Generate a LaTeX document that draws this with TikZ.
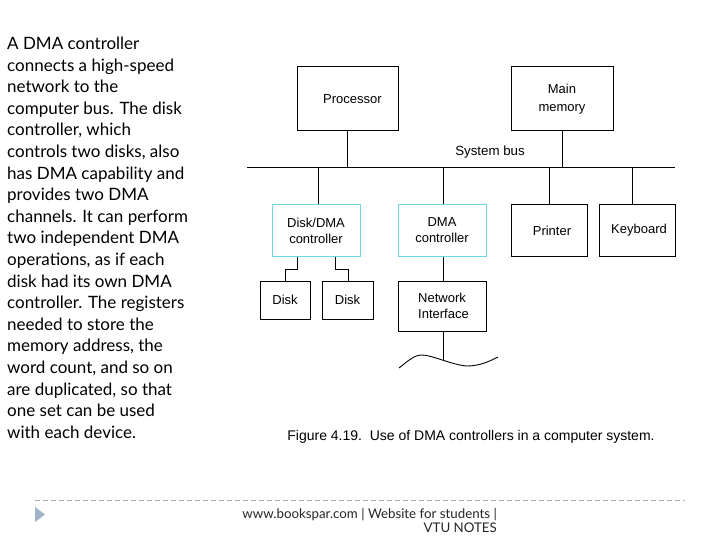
\documentclass[tikz,border=0pt]{standalone}
\usepackage{fontspec}
\setmainfont{Liberation Sans}
\newfontfamily\parafont{Lato}
\definecolor{cyanedge}{RGB}{110,215,225}
\definecolor{footgray}{RGB}{170,170,170}
\definecolor{triblue}{RGB}{160,180,202}
\begin{document}
\begin{tikzpicture}[x=1pt,y=-1pt,
  box/.style={draw=black,line width=1pt,inner sep=0pt,align=center,
    font=\fontsize{13}{16}\selectfont},
  cbox/.style={box,draw=cyanedge},
  wire/.style={line width=1pt},
  para/.style={inner sep=0pt,font=\parafont\fontsize{17}{20}\selectfont},
  foot/.style={inner sep=0pt,font=\parafont\fontsize{13.3}{16}\selectfont,text=black!85}]
\useasboundingbox (0,0) rectangle (720,540);
\fill[white] (0,0) rectangle (720,540);
% left paragraph
\foreach \t [count=\i] in {A DMA controller,connects a high-speed,network to the,computer bus. The disk,{controller, which},{controls two disks, also},has DMA capability and,provides two DMA,channels. It can perform,two independent DMA,{operations, as if each},disk had its own DMA,controller. The registers,needed to store the,{memory address, the},{word count, and so on},{are duplicated, so that},one set can be used,with each device.}
  \node[para,anchor=base west] (p\i) at (7,{49.5+21.6*(\i-1)}) {\t};
% boxes
\node[box,minimum width=101pt,minimum height=64pt] (proc) at (347.5,99) {\hspace*{10pt}Processor};
\node[box,minimum width=102pt,minimum height=64pt,font=\fontsize{13}{17.5}\selectfont] (mem) at (562,99) {\raisebox{1.5pt}{\begin{tabular}{@{}c@{}}Main\\memory\end{tabular}}};
\node[cbox,minimum width=88pt,minimum height=51pt] (dd) at (316,230.5) {Disk/DMA\\controller};
\node[cbox,minimum width=88pt,minimum height=51pt] (dma) at (442,230.5) {DMA\\controller};
\node[box,minimum width=76pt,minimum height=51pt] (pr) at (549,230.5) {\hspace*{6pt}Printer};
\node[box,minimum width=76pt,minimum height=51pt] (kb) at (637,230.5) {\hspace*{4pt}Keyboard};
\node[box,minimum width=50pt,minimum height=38pt] (d1) at (285,300) {Disk};
\node[box,minimum width=51pt,minimum height=38pt] (d2) at (347.5,300) {Disk};
\node[box,minimum width=88pt,minimum height=50pt,align=left] (ni) at (442,306) {\hspace*{3pt}Network\\\hspace*{3pt}Interface};
% bus
\coordinate (busL) at (247,168);
\coordinate (busR) at (675,168);
\draw[wire] (busL) -- (busR);
\node[inner sep=0pt,font=\fontsize{13.3}{15}\selectfont] (bl) at (490,152) {System bus};
\draw[wire] (proc.south) -- (proc.south |- busL);
\draw[wire] (mem.south) -- (mem.south |- busL);
\draw[wire] ([xshift=2pt]dd.north) -- ([xshift=2pt]dd.north |- busL);
\draw[wire] ([xshift=1pt]dma.north) -- ([xshift=1pt]dma.north |- busL);
\draw[wire] (pr.north) -- (pr.north |- busL);
\draw[wire] ([xshift=-5pt]kb.north) -- ([xshift=-5pt]kb.north |- busL);
% disk connectors
\draw[wire] ([xshift=-19pt]dd.south) -- ++(0,13) -| (d1.north);
\draw[wire] ([xshift=19pt]dd.south) -- ++(0,13) -| ([xshift=0.5pt]d2.north);
% network
\draw[wire] ([xshift=1pt]dma.south) -- ([xshift=1pt]ni.north);
\coordinate (wv) at (443,361);
\draw[wire] ([xshift=1pt]ni.south) -- (wv);
\draw[line width=0.9pt] (399,368) .. controls (408,361) and (414,355) .. (422,355)
  .. controls (432,355) and (452,365) .. (467,366)
  .. controls (480,366) and (490,361) .. (498,357);
% caption
\node[inner sep=0pt,font=\fontsize{14}{16}\selectfont] (cap) at (471,437) {Figure 4.19.\ \ Use of DMA controllers in a computer system.};
% footer
\coordinate (fl) at (35,500);
\coordinate (fr) at (685,500);
\draw[footgray,line width=0.8pt,dash pattern=on 5pt off 3pt] (fl) -- (fr);
\fill[triblue] (35,507) -- (45,514.5) -- (35,522) -- cycle;
\node[foot,anchor=base east] (f1) at (497,518) {www.bookspar.com | Website for students |};
\node[foot,anchor=base east] (f2) at (497,532) {VTU NOTES};
\end{tikzpicture}
\end{document}
